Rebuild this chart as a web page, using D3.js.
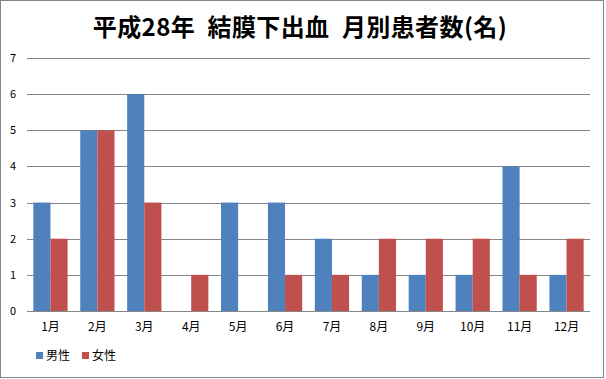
<!DOCTYPE html>
<html><head><meta charset="utf-8">
<script src="https://cdn.jsdelivr.net/npm/d3@7"></script>
<style>body{margin:0;background:#fff;}svg{display:block;}</style>
</head><body>
<script>
const categories = ["1月","2月","3月","4月","5月","6月","7月","8月","9月","10月","11月","12月"];
const male = [3,5,6,0,3,3,2,1,1,1,4,1];
const female = [2,5,3,1,0,1,1,2,2,2,1,2];
const seriesNames = ["男性","女性"];
const colors = ["#4F81BD","#C0504D"];
const yTicks = [0,1,2,3,4,5,6,7];
const title = "平成28年\u2002結膜下出血\u2002月別患者数(名)";

const W = 606, H = 379;
const svg = d3.select("body").append("svg").attr("width", W).attr("height", H);
const font = "'Noto Sans CJK JP', sans-serif";

svg.append("rect").attr("x",0.5).attr("y",0.5).attr("width",W-3).attr("height",H-2)
  .attr("fill","#fff").attr("stroke","#868686").attr("stroke-width",1);

const x0 = d3.scaleBand().domain(categories).range([27, 590]).paddingInner(0.27).paddingOuter(0.135);
const x1 = d3.scaleBand().domain(seriesNames).range([0, x0.bandwidth()]);
const y = d3.scaleLinear().domain([0,7]).range([311, 58]);

// gridlines
svg.append("g").selectAll("line").data(yTicks).join("line")
  .attr("x1",27).attr("x2",590).attr("y1",d=>Math.round(y(d))+0.5).attr("y2",d=>Math.round(y(d))+0.5)
  .attr("stroke","#868686").attr("stroke-width",1);

// y labels
const yAxis = d3.axisLeft(y).tickValues(yTicks).tickFormat(d3.format("d")).tickSize(0).tickPadding(0);
const ya = svg.append("g").attr("transform","translate(13,0)").call(yAxis);
ya.select(".domain").remove();
ya.selectAll("text").attr("font-family",font).attr("font-size",11).attr("fill","#000").attr("text-anchor","middle");

// bars
const data = categories.map((c,i)=>({c, vals:[male[i], female[i]]}));
const g = svg.append("g");
data.forEach(d=>{
  d.vals.forEach((v,j)=>{
    if (v===0) return;
    g.append("rect").attr("x", x0(d.c)+x1(seriesNames[j])).attr("y", y(v))
      .attr("width", x1.bandwidth()).attr("height", y(0)-y(v)).attr("fill", colors[j]);
  });
});

svg.append("line").attr("x1",27).attr("x2",590).attr("y1",Math.round(y(0))+0.5).attr("y2",Math.round(y(0))+0.5)
  .attr("stroke","#868686");

// x labels
const xAxis = d3.axisBottom(x0).tickSize(0).tickPadding(0);
const xa = svg.append("g").attr("transform","translate(0,322)").call(xAxis);
xa.select(".domain").remove();
xa.selectAll("text").attr("font-family",font).attr("font-size",12).attr("fill","#000");

// title
svg.append("text").attr("x",300).attr("y",36).attr("text-anchor","middle")
  .attr("font-family",font).attr("font-size",24).attr("font-weight","bold").attr("fill","#000")
  .attr("letter-spacing","0.4px")
  .text(title);

// legend
const lg = svg.append("g");
const lx = [36, 82];
seriesNames.forEach((n,i)=>{
  lg.append("rect").attr("x",lx[i]).attr("y",352).attr("width",7).attr("height",7).attr("fill",colors[i]);
  lg.append("text").attr("x",lx[i]+10).attr("y",360).attr("font-family",font).attr("font-size",12)
    .attr("fill","#000").text(n);
});
</script>
</body></html>
